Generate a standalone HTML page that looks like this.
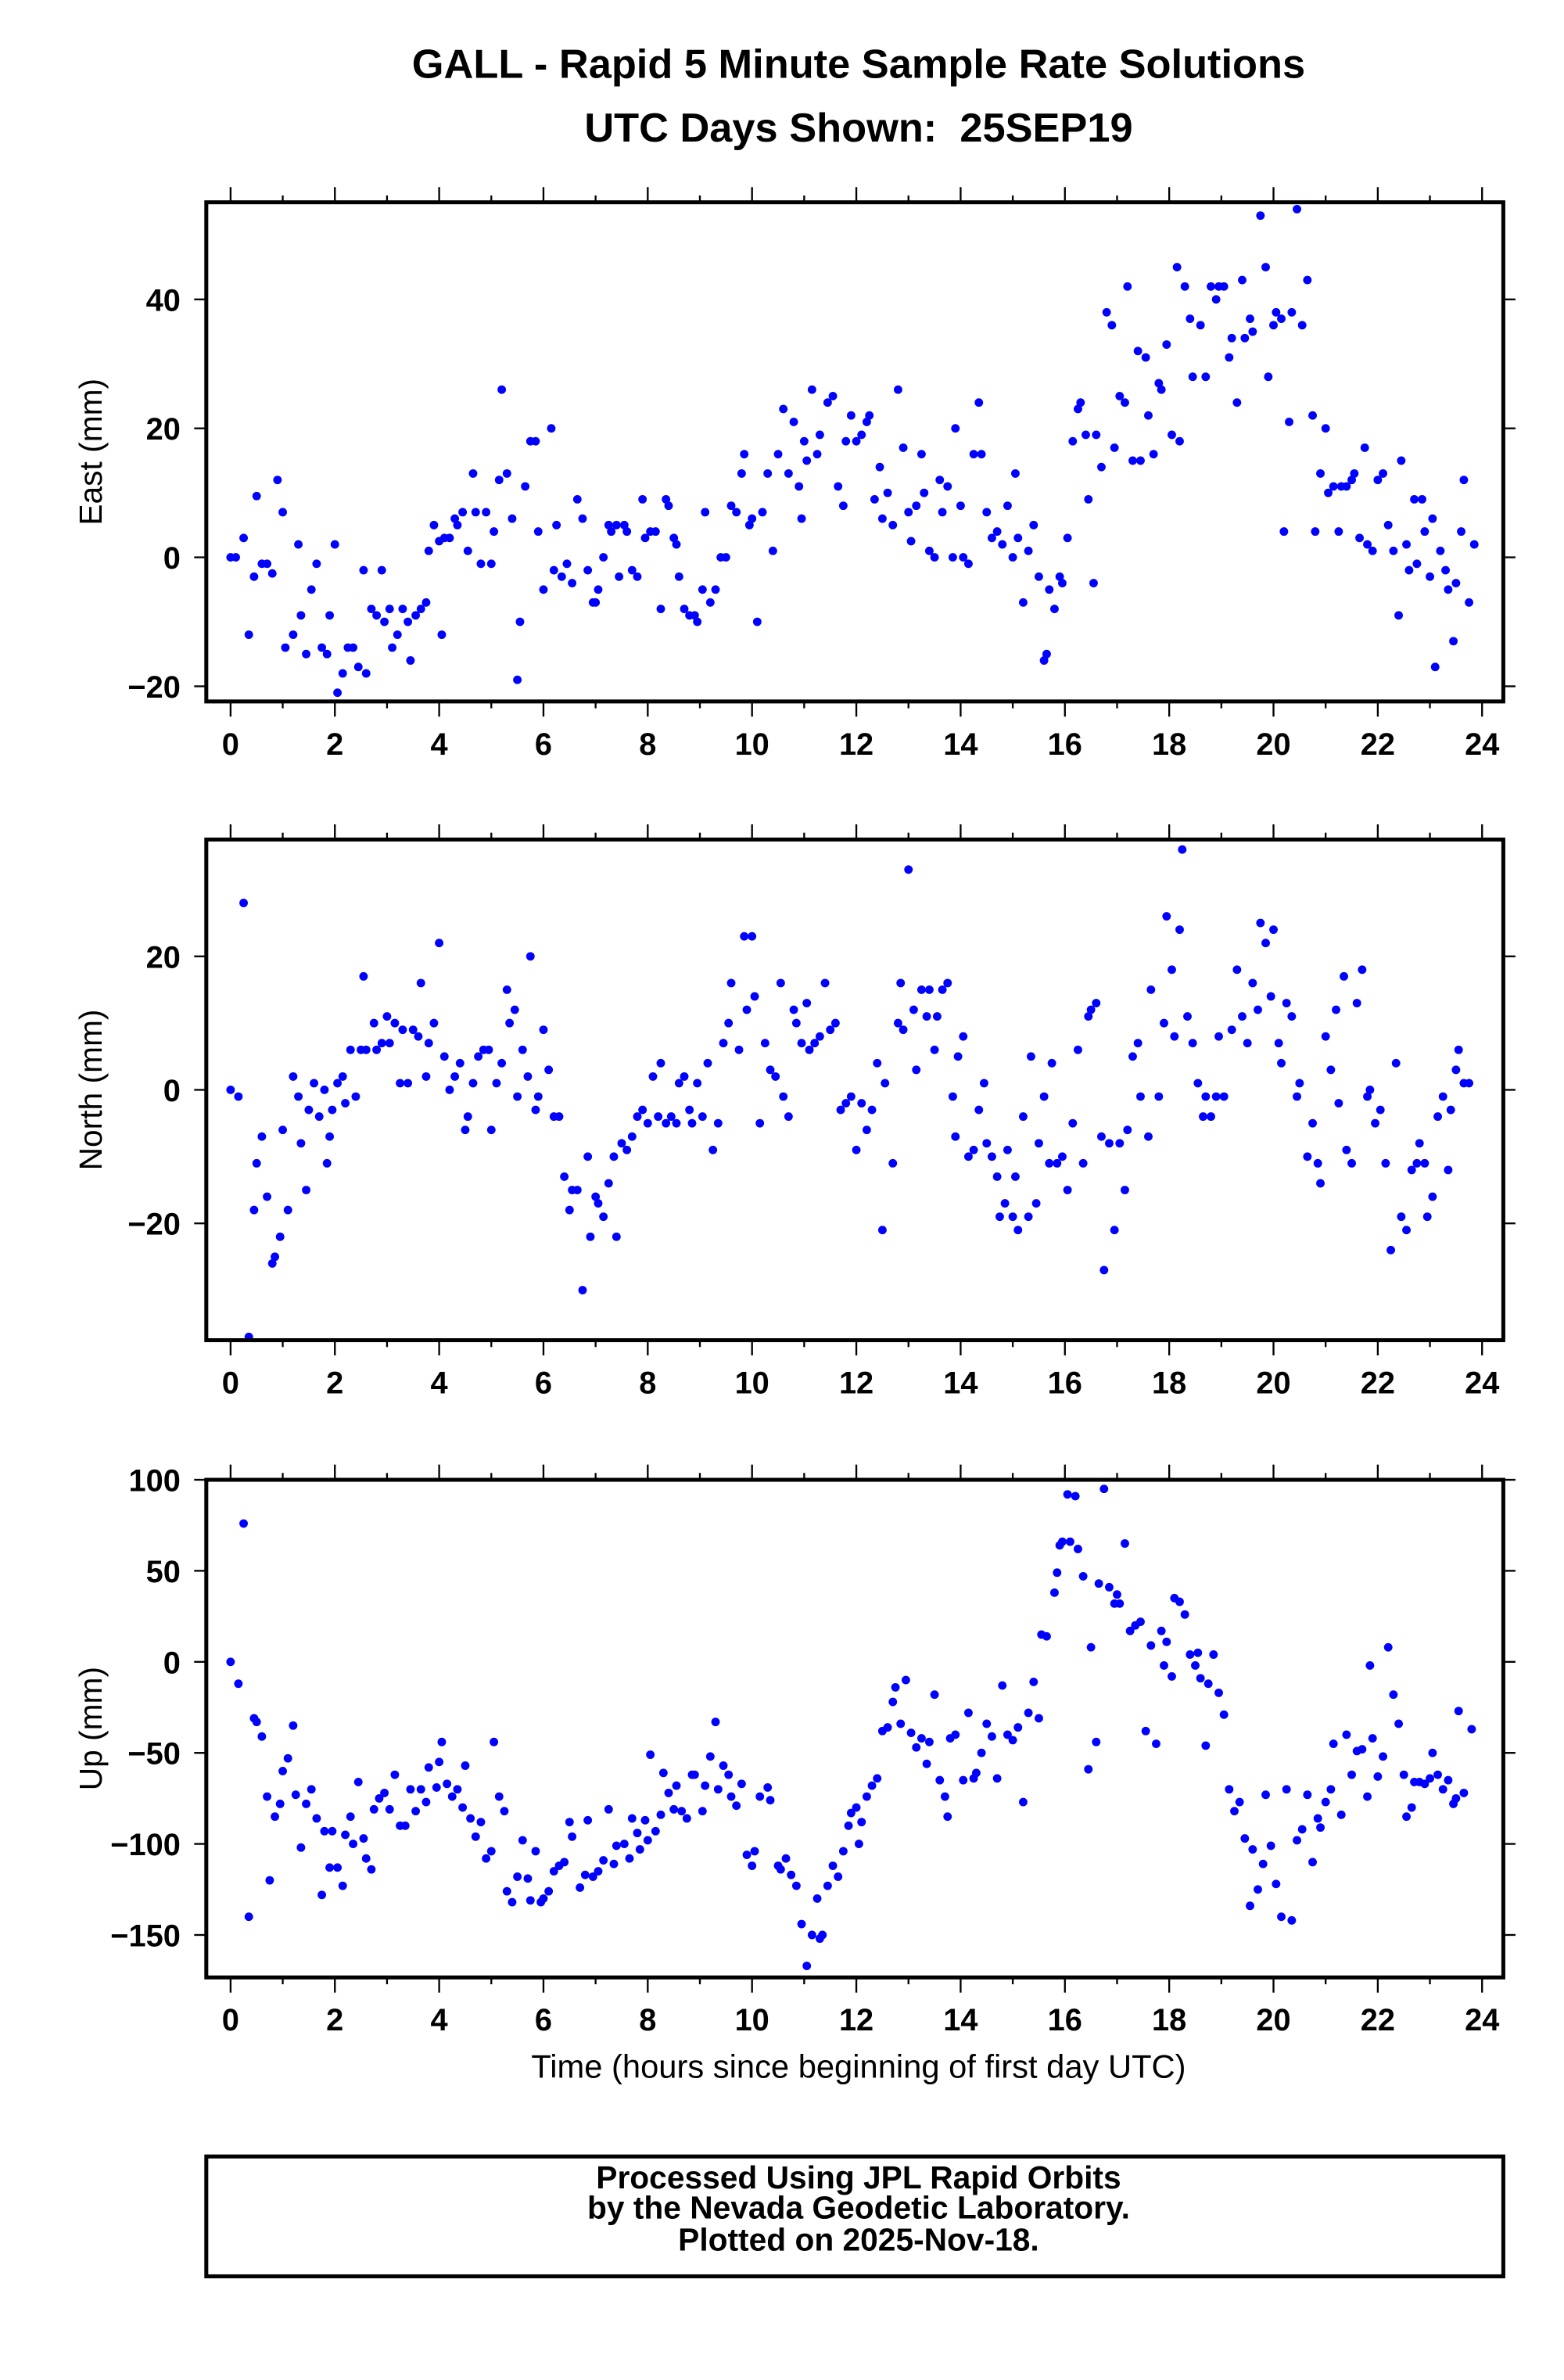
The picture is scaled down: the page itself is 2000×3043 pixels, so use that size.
<!DOCTYPE html>
<html><head><meta charset="utf-8"><style>
html,body{margin:0;padding:0;background:#fff;}
svg{display:block;}
text{font-family:"Liberation Sans",Arial,sans-serif;fill:#000;}
</style></head><body>
<svg id="chart" width="2000" height="3043" viewBox="0 0 1031 1568" xmlns="http://www.w3.org/2000/svg">
<rect width="1031" height="1568" fill="#fff"/>
<text x="566" y="51" font-size="27" font-weight="bold" text-anchor="middle">GALL - Rapid 5 Minute Sample Rate Solutions</text>
<text x="566" y="93" font-size="27" font-weight="bold" text-anchor="middle">UTC Days Shown:&#160; 25SEP19</text>
<g id="plots"></g>
<text x="566" y="1369" font-size="21.5" text-anchor="middle">Time (hours since beginning of first day UTC)</text>
<rect x="136" y="1421" width="855" height="79" fill="none" stroke="#000" stroke-width="2.6"/>
<text x="566" y="1442" font-size="21" font-weight="bold" text-anchor="middle">Processed Using JPL Rapid Orbits</text>
<text x="566" y="1462" font-size="21" font-weight="bold" text-anchor="middle">by the Nevada Geodetic Laboratory.</text>
<text x="566" y="1483" font-size="21" font-weight="bold" text-anchor="middle">Plotted on 2025-Nov-18.</text>
</svg>
<script>
const xTickLabels = [0,2,4,6,8,10,12,14,16,18,20,22,24];
const eastTicks = [-20,0,20,40];
const northTicks = [-20,0,20];
const upTicks = [-150,-100,-50,0,50,100];
const eastHours = [0,0.1,0.25,0.35,0.45,0.5,0.6,0.7,0.8,0.9,1.0,1.05,1.2,1.3,1.35,1.45,1.55,1.65,1.75,1.85,1.9,2.0,2.05,2.15,2.25,2.35,2.45,2.55,2.6,2.7,2.8,2.9,2.95,3.05,3.1,3.2,3.3,3.4,3.45,3.55,3.65,3.75,3.8,3.9,4.0,4.05,4.1,4.2,4.3,4.35,4.45,4.55,4.65,4.7,4.8,4.9,5.0,5.05,5.15,5.2,5.3,5.4,5.5,5.55,5.65,5.75,5.85,5.9,6.0,6.15,6.2,6.25,6.35,6.45,6.55,6.65,6.75,6.85,6.95,7.0,7.05,7.15,7.25,7.3,7.4,7.45,7.55,7.6,7.7,7.8,7.9,7.95,8.05,8.15,8.25,8.35,8.4,8.5,8.55,8.6,8.7,8.8,8.9,8.95,9.05,9.1,9.2,9.3,9.4,9.5,9.6,9.7,9.8,9.85,9.95,10.0,10.1,10.2,10.3,10.4,10.5,10.6,10.7,10.8,10.9,10.95,11.0,11.05,11.15,11.25,11.3,11.45,11.55,11.65,11.75,11.8,11.9,12.0,12.1,12.2,12.25,12.35,12.45,12.5,12.6,12.7,12.8,12.9,13.0,13.05,13.15,13.25,13.3,13.4,13.5,13.6,13.65,13.75,13.85,13.9,14.0,14.05,14.15,14.25,14.35,14.4,14.5,14.6,14.7,14.8,14.9,15.0,15.05,15.1,15.2,15.3,15.4,15.5,15.6,15.65,15.7,15.8,15.9,15.95,16.05,16.15,16.25,16.3,16.4,16.45,16.55,16.6,16.7,16.8,16.9,16.95,17.05,17.15,17.2,17.3,17.4,17.45,17.55,17.6,17.7,17.8,17.85,17.95,18.05,18.15,18.2,18.3,18.4,18.45,18.6,18.7,18.8,18.9,18.95,19.05,19.15,19.2,19.3,19.4,19.45,19.55,19.6,19.75,19.85,19.9,20.0,20.05,20.15,20.2,20.3,20.35,20.45,20.55,20.65,20.75,20.8,20.9,21.0,21.05,21.15,21.25,21.3,21.4,21.5,21.55,21.65,21.75,21.8,21.9,22.0,22.1,22.2,22.3,22.4,22.45,22.55,22.6,22.7,22.75,22.85,22.9,23.0,23.05,23.1,23.2,23.3,23.35,23.45,23.5,23.6,23.65,23.75,23.85];
const eastValues = [0,0,3,-12,-3,9.5,-1,-1,-2.5,12,7,-14,-12,2,-9,-15,-5,-1,-14,-15,-9,2,-21,-18,-14,-14,-17,-2,-18,-8,-9,-2,-10,-8,-14,-12,-8,-10,-16,-9,-8,-7,1,5,2.5,-12,3,3,6,5,7,1,13,7,-1,7,-1,4,12,26,13,6,-19,-10,11,18,18,4,-5,20,-2,5,-3,-1,-4,9,6,-2,-7,-7,-5,0,5,4,5,-3,5,4,-2,-3,9,3,4,4,-8,9,8,3,2,-3,-8,-9,-9,-10,-5,7,-7,-5,0,0,8,7,13,16,5,6,-10,7,13,1,16,23,13,21,11,6,18,15,26,16,19,24,25,11,8,18,22,18,19,21,22,9,14,6,10,5,26,17,7,2.5,8,16,10,1,0,12,7,11,0,20,8,0,-1,16,24,16,7,3,4,2,8,0,13,3,-7,1,5,-3,-16,-15,-5,-8,-3,-4,3,18,23,24,19,9,-4,19,14,38,36,17,25,24,42,15,32,15,31,22,16,27,26,33,19,45,18,42,37,28,36,28,42,40,42,42,31,34,24,43,34,37,35,53,45,28,36,38,37,4,21,38,54,36,43,22,4,13,20,10,11,4,11,11,12,13,3,17,2,1,12,13,5,1,-9,15,2,-2,9,-1,9,4,-3,6,-17,1,-2,-5,-13,-4,4,12,-7,2];
const northHours = [0.0,0.15,0.25,0.35,0.45,0.5,0.6,0.7,0.8,0.85,0.95,1.0,1.1,1.2,1.3,1.35,1.45,1.5,1.6,1.7,1.8,1.85,1.9,1.95,2.05,2.15,2.2,2.3,2.4,2.5,2.55,2.6,2.75,2.8,2.9,3.0,3.05,3.15,3.25,3.3,3.4,3.5,3.6,3.65,3.75,3.8,3.9,4.0,4.1,4.2,4.3,4.4,4.5,4.55,4.65,4.75,4.85,4.95,5.0,5.1,5.2,5.3,5.35,5.45,5.5,5.6,5.7,5.75,5.85,5.9,6.0,6.1,6.2,6.3,6.4,6.5,6.55,6.65,6.75,6.85,6.9,7.0,7.05,7.15,7.25,7.35,7.4,7.5,7.6,7.7,7.8,7.9,8.0,8.1,8.2,8.25,8.35,8.45,8.55,8.6,8.7,8.8,8.85,8.95,9.05,9.15,9.25,9.35,9.45,9.55,9.6,9.75,9.85,9.9,10.0,10.05,10.15,10.25,10.35,10.45,10.55,10.6,10.7,10.8,10.85,10.95,11.05,11.1,11.2,11.3,11.4,11.5,11.6,11.7,11.8,11.9,12.0,12.1,12.2,12.3,12.4,12.5,12.55,12.7,12.8,12.85,12.9,13.0,13.1,13.15,13.25,13.35,13.4,13.5,13.55,13.65,13.75,13.85,13.9,13.95,14.05,14.15,14.25,14.35,14.45,14.5,14.6,14.7,14.75,14.85,14.9,15.0,15.05,15.1,15.2,15.3,15.35,15.45,15.5,15.6,15.7,15.75,15.85,15.95,16.05,16.15,16.25,16.35,16.45,16.5,16.6,16.7,16.75,16.85,16.95,17.05,17.15,17.2,17.3,17.4,17.45,17.6,17.65,17.8,17.9,17.95,18.05,18.1,18.2,18.25,18.35,18.45,18.55,18.65,18.7,18.8,18.9,18.95,19.05,19.2,19.3,19.4,19.5,19.6,19.7,19.75,19.85,19.95,20.0,20.1,20.15,20.25,20.35,20.45,20.5,20.65,20.75,20.85,20.9,21.0,21.1,21.2,21.25,21.35,21.4,21.5,21.6,21.7,21.8,21.85,21.95,22.05,22.15,22.25,22.35,22.45,22.55,22.65,22.75,22.8,22.9,22.95,23.05,23.15,23.25,23.35,23.4,23.5,23.55,23.65,23.75];
const northValues = [0,-1,28,-37,-18,-11,-7,-16,-26,-25,-22,-6,-18,2,-1,-8,-15,-3,1,-4,0,-11,-7,-3,1,2,-2,6,-1,6,17,6,10,6,7,11,7,10,1,9,1,9,8,16,2,7,10,22,5,0,2,4,-6,-4,1,5,6,6,-6,1,4,15,10,12,-1,6,2,20,-3,-1,9,3,-4,-4,-13,-18,-15,-15,-30,-10,-22,-16,-17,-19,-14,-10,-22,-8,-9,-7,-4,-3,-5,2,-4,4,-5,-4,-5,1,2,-3,-5,1,-4,4,-9,-5,7,10,16,6,23,12,23,14,-5,7,3,2,16,-1,-4,12,10,7,13,6,7,8,16,9,10,-3,-2,-1,-9,-2,-6,-3,4,-21,1,-11,10,16,9,33,12,3,15,11,15,6,11,15,16,-1,-7,5,8,-10,-9,-3,1,-8,-10,-13,-19,-17,-9,-19,-13,-21,-4,-19,5,-17,-8,-1,-11,4,-11,-10,-15,-5,6,-11,11,12,13,-7,-27,-8,-21,-8,-15,-6,5,7,-1,-7,15,-1,10,26,18,8,24,36,11,7,1,-4,-1,-4,-1,8,-1,9,18,11,7,16,12,25,22,14,24,7,4,13,11,-1,1,-10,-5,-11,-14,8,3,12,-2,17,-9,-11,13,18,-1,0,-5,-3,-11,-24,4,-19,-21,-12,-11,-8,-11,-19,-16,-4,-1,-12,-3,3,6,1,1];
const upHours = [0.0,0.15,0.25,0.35,0.45,0.5,0.6,0.7,0.75,0.85,0.95,1.0,1.1,1.2,1.25,1.35,1.45,1.55,1.65,1.75,1.8,1.9,1.95,2.05,2.15,2.2,2.3,2.35,2.45,2.55,2.6,2.7,2.75,2.85,2.95,3.05,3.15,3.25,3.35,3.45,3.55,3.65,3.75,3.8,3.95,4.0,4.05,4.15,4.25,4.35,4.45,4.5,4.6,4.7,4.8,4.9,5.0,5.05,5.15,5.25,5.3,5.4,5.5,5.6,5.7,5.75,5.85,5.95,6.0,6.1,6.2,6.3,6.4,6.5,6.55,6.7,6.8,6.85,6.95,7.05,7.15,7.25,7.35,7.4,7.55,7.65,7.7,7.8,7.85,7.95,8.0,8.05,8.15,8.25,8.3,8.4,8.5,8.55,8.65,8.75,8.85,8.9,9.05,9.1,9.2,9.3,9.35,9.45,9.55,9.6,9.7,9.8,9.9,10.0,10.05,10.15,10.3,10.35,10.5,10.55,10.65,10.75,10.85,10.95,11.05,11.15,11.25,11.3,11.35,11.45,11.55,11.65,11.75,11.85,11.9,12.0,12.05,12.1,12.2,12.3,12.4,12.5,12.6,12.7,12.75,12.85,12.95,13.05,13.15,13.25,13.35,13.4,13.5,13.6,13.7,13.75,13.8,13.9,14.05,14.15,14.25,14.3,14.4,14.5,14.6,14.7,14.8,14.9,15.0,15.1,15.2,15.3,15.4,15.5,15.55,15.65,15.8,15.85,15.9,15.95,16.05,16.1,16.2,16.25,16.35,16.45,16.5,16.6,16.65,16.75,16.85,16.95,17.0,17.05,17.15,17.25,17.35,17.45,17.55,17.65,17.75,17.85,17.9,17.95,18.05,18.1,18.2,18.3,18.4,18.5,18.55,18.6,18.7,18.75,18.85,18.95,19.05,19.15,19.25,19.35,19.45,19.55,19.6,19.7,19.8,19.85,19.95,20.05,20.15,20.25,20.35,20.45,20.55,20.65,20.75,20.85,20.9,21.0,21.1,21.15,21.3,21.4,21.5,21.6,21.7,21.8,21.85,21.9,22.0,22.1,22.2,22.3,22.4,22.5,22.55,22.65,22.7,22.8,22.9,23.0,23.05,23.15,23.25,23.35,23.45,23.5,23.55,23.65,23.8];
const upValues = [0,-12,76,-140,-31,-33,-41,-74,-120,-85,-78,-60,-53,-35,-73,-102,-78,-70,-86,-128,-93,-113,-93,-113,-123,-95,-85,-100,-66,-97,-108,-114,-81,-75,-72,-81,-62,-90,-90,-70,-82,-70,-77,-58,-69,-55,-44,-67,-74,-70,-80,-57,-86,-96,-88,-108,-104,-44,-74,-82,-126,-132,-118,-98,-119,-131,-104,-132,-130,-126,-115,-112,-110,-88,-96,-124,-117,-87,-118,-115,-109,-81,-111,-101,-100,-108,-86,-94,-103,-87,-98,-51,-93,-84,-61,-72,-81,-68,-82,-86,-62,-62,-82,-68,-52,-33,-70,-57,-62,-74,-79,-67,-106,-112,-104,-74,-69,-76,-112,-114,-108,-117,-123,-144,-167,-150,-130,-152,-150,-123,-112,-118,-104,-90,-83,-80,-100,-88,-74,-68,-64,-38,-36,-22,-14,-34,-10,-39,-47,-42,-56,-44,-18,-65,-74,-85,-42,-40,-65,-28,-64,-61,-50,-34,-41,-64,-13,-40,-43,-36,-77,-28,-11,-31,15,14,38,49,64,66,92,66,91,62,47,-59,8,-44,43,95,41,32,37,32,65,17,20,22,-38,9,-45,17,-2,11,-8,35,33,26,4,-2,5,-9,-46,-12,4,-17,-29,-70,-82,-77,-97,-134,-103,-125,-111,-73,-101,-122,-140,-70,-142,-98,-92,-73,-110,-86,-91,-77,-70,-45,-84,-40,-62,-49,-48,-74,-2,-42,-63,-52,8,-18,-34,-62,-85,-80,-66,-66,-67,-64,-50,-62,-70,-65,-78,-75,-27,-72,-37];

const NS='http://www.w3.org/2000/svg';
const root=document.getElementById('plots');
const X0=136,X1=991;
function xScale(h){return 152+(h/24)*(977-152);}
function mk(tag,attrs,parent){const e=document.createElementNS(NS,tag);for(const k in attrs)e.setAttribute(k,attrs[k]);parent.appendChild(e);return e;}

function panel(name,top,bottom,refA,pxA,refB,pxB,ticks,hours,vals,title){
  const g=mk('g',{},root);
  
  
  const k=(pxB-pxA)/(refB-refA);
  const yScale=v=>pxA+(v-refA)*k;
  for(let h=0;h<=24;h++){
    const x=xScale(h);const len=(h%2===0)?10:4.5;
    mk('line',{x1:x,x2:x,y1:top,y2:top-len,stroke:'#000','stroke-width':1.2},g);
    mk('line',{x1:x,x2:x,y1:bottom,y2:bottom+len,stroke:'#000','stroke-width':1.2},g);
  }
  xTickLabels.forEach(v=>{
    const t=mk('text',{x:xScale(v),y:bottom+35,'font-size':20.5,'font-weight':'bold','text-anchor':'middle'},g);
    
    
    t.textContent=v;
  });
  ticks.forEach(v=>{
    const y=yScale(v);
    mk('line',{x1:X0,x2:X0-8,y1:y,y2:y,stroke:'#000','stroke-width':1.2},g);
    mk('line',{x1:X1,x2:X1+8,y1:y,y2:y,stroke:'#000','stroke-width':1.2},g);
    const t=mk('text',{x:X0-17,y:y+7.5,'font-size':20.5,'font-weight':'bold','text-anchor':'end'},g);
    
    
    t.textContent=(v<0?'\u2212'+(-v):v);
  });
  const cx=(top+bottom)/2;
  const at=mk('text',{x:0,y:0,'font-size':21,'text-anchor':'middle',transform:`translate(67,${cx}) rotate(-90)`},g);
  
  
  at.textContent=title;
  hours.forEach((h,i)=>{
    const c=mk('circle',{cx:xScale(h),cy:yScale(vals[i]),r:2.8,fill:'#0000ff'},g);
    
    
  });
  const fr=mk('rect',{x:X0,y:top,width:X1-X0,height:bottom-top,fill:'none',stroke:'#000','stroke-width':2.6},g);
  
  
}
panel('east',133,462,0,367,40,197,eastTicks,eastHours,eastValues,'East (mm)');
panel('north',553,883,0,718,20,630,northTicks,northHours,northValues,'North (mm)');
panel('up',975,1303,0,1095,100,975,upTicks,upHours,upValues,'Up (mm)');
</script>
</body></html>
